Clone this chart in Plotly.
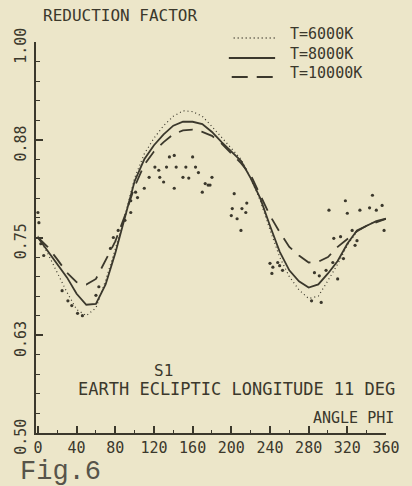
import plotly.graph_objects as go

# ---------------- data ----------------
phi = [0, 10, 20, 30, 40, 50, 60, 70, 80, 90, 100, 110, 120, 130, 140, 150, 160, 170, 180,
       190, 200, 210, 220, 230, 240, 250, 260, 270, 280, 290, 300, 310, 320, 330, 340, 350, 360]

rf_6000 = [0.752, 0.730, 0.705, 0.680, 0.658, 0.650, 0.660, 0.695, 0.735, 0.778, 0.826, 0.857,
           0.877, 0.893, 0.905, 0.912, 0.911, 0.905, 0.892, 0.878, 0.864, 0.850, 0.826, 0.797,
           0.760, 0.725, 0.700, 0.683, 0.672, 0.675, 0.695, 0.716, 0.740, 0.758, 0.765, 0.771, 0.774]

rf_8000 = [0.750, 0.733, 0.715, 0.699, 0.678, 0.664, 0.665, 0.690, 0.730, 0.776, 0.822, 0.850,
           0.868, 0.882, 0.893, 0.898, 0.898, 0.895, 0.885, 0.872, 0.860, 0.848, 0.826, 0.800,
           0.765, 0.732, 0.708, 0.694, 0.686, 0.690, 0.704, 0.720, 0.742, 0.759, 0.765, 0.771, 0.774]

rf_10000 = [0.750, 0.738, 0.722, 0.705, 0.693, 0.690, 0.697, 0.720, 0.745, 0.778, 0.815, 0.843,
            0.860, 0.872, 0.882, 0.887, 0.888, 0.885, 0.880, 0.870, 0.858, 0.845, 0.830, 0.804,
            0.778, 0.757, 0.738, 0.727, 0.718, 0.719, 0.725, 0.738, 0.748, 0.758, 0.765, 0.770, 0.774]

obs_phi = [0, 1, 3, 6, 25, 31, 35, 41, 46, 60, 63, 75, 78, 83, 90, 96, 101, 96, 103, 110,
           115, 121, 125, 126, 130, 133, 136, 141, 141, 143, 150, 153, 156, 160, 163, 166, 170,
           173, 176, 180, 178, 203, 201, 200, 211, 215, 206, 210, 216, 240, 243, 248, 250, 253,
           242, 283, 293, 286, 291, 298, 310, 305, 306, 313, 316, 325, 330, 328, 301, 318, 320,
           333, 343, 350, 346, 356, 358]
obs_rf = [0.782, 0.769, 0.742, 0.727, 0.682, 0.669, 0.663, 0.653, 0.650, 0.676, 0.687, 0.736,
          0.750, 0.759, 0.772, 0.797, 0.808, 0.782, 0.801, 0.813, 0.827, 0.840, 0.836, 0.827,
          0.821, 0.840, 0.853, 0.855, 0.813, 0.840, 0.827, 0.840, 0.826, 0.853, 0.840, 0.833,
          0.808, 0.819, 0.817, 0.827, 0.817, 0.806, 0.787, 0.778, 0.787, 0.782, 0.774, 0.759,
          0.794, 0.717, 0.712, 0.718, 0.714, 0.708, 0.704, 0.669, 0.667, 0.705, 0.701, 0.708,
          0.697, 0.718, 0.749, 0.751, 0.723, 0.759, 0.746, 0.740, 0.785, 0.797, 0.781, 0.785,
          0.788, 0.785, 0.804, 0.791, 0.759]

x_tickvals = [0, 40, 80, 120, 160, 200, 240, 280, 320, 360]
x_ticktext = ["0", "40", "80", "120", "160", "200", "240", "280", "320", "360"]
y_tickvals = [0.5, 0.625, 0.75, 0.875, 1.0]
y_ticktext = ["0.50", "0.63", "0.75", "0.88", "1.00"]

legend_labels = ["T=6000K", "T=8000K", "T=10000K"]

# ---------------- style ----------------
INK = "#3b382c"
BG = "#ece6c9"
MONO = "DejaVu Sans Mono"

fig = go.Figure()

fig.add_trace(go.Scatter(x=phi, y=rf_6000, mode="lines", name=legend_labels[0],
                         line=dict(color=INK, width=1.2, dash="1px,3px"), showlegend=False))
fig.add_trace(go.Scatter(x=phi, y=rf_8000, mode="lines", name=legend_labels[1],
                         line=dict(color=INK, width=1.8), showlegend=False))
fig.add_trace(go.Scatter(x=phi, y=rf_10000, mode="lines", name=legend_labels[2],
                         line=dict(color=INK, width=1.8, dash="14px,9px"), showlegend=False))
fig.add_trace(go.Scatter(x=obs_phi, y=obs_rf, mode="markers", name="obs",
                         marker=dict(color=INK, size=3.2), showlegend=False))

# plot area in pixels: left 35, right 398, top 42, bottom 433
L, R, T, B = 35, 398, 42, 433
W, H = 412, 486


def px(x):
    return (x - L) / (R - L)


def py(y):
    return (B - y) / (B - T)


# custom legend
leg_rows = [38, 58, 77]
leg_dash = ["1px,3px", "solid", "16px,9px"]
leg_w = [1.3, 2.0, 2.0]
leg_x0 = [240, 235, 238]
for i in range(3):
    fig.add_shape(type="line", xref="paper", yref="paper",
                  x0=px(leg_x0[i]), x1=px(283), y0=py(leg_rows[i]), y1=py(leg_rows[i]),
                  line=dict(color=INK, width=leg_w[i], dash=leg_dash[i]))
    fig.add_annotation(xref="paper", yref="paper", x=px(296), y=py(leg_rows[i] - 4),
                       text=legend_labels[i], showarrow=False, xanchor="left", yanchor="middle",
                       font=dict(family=MONO, size=15, color=INK))

texts = [
    ("REDUCTION FACTOR", 40, 15, 16, "left", MONO, INK),
    ("S1", 167, 370, 16, "center", MONO, INK),
    ("EARTH ECLIPTIC LONGITUDE 11 DEG", 77, 389, 17, "left", MONO, INK),
    ("ANGLE PHI", 320, 418, 15, "left", MONO, INK),
    ("Fig.6", 16, 472, 27, "left", "Liberation Mono", "#57544a"),
]
for t, x, y, s, xa, fam, col in texts:
    fig.add_annotation(xref="paper", yref="paper", x=px(x), y=py(y), text=t, showarrow=False,
                       xanchor=xa, yanchor="middle", font=dict(family=fam, size=s, color=col))

fig.update_xaxes(range=[-2, 360], tickvals=x_tickvals, ticktext=x_ticktext,
                 showline=True, linecolor=INK, linewidth=2, showgrid=False, zeroline=False,
                 ticks="inside", ticklen=7, tickwidth=1.5, tickcolor=INK,
                 minor=dict(dtick=20, ticks="inside", ticklen=3, tickcolor=INK, tickwidth=1.2),
                 tickfont=dict(family=MONO, size=15, color=INK))
fig.update_yaxes(range=[0.5, 1.0], tickvals=y_tickvals, ticktext=y_ticktext, tickangle=-90,
                 showline=True, linecolor=INK, linewidth=2, showgrid=False, zeroline=False,
                 ticks="inside", ticklen=7, tickwidth=1.5, tickcolor=INK,
                 ticklabelshift=6, ticklabelstandoff=2,
                 minor=dict(dtick=0.025, ticks="inside", ticklen=4, tickcolor=INK, tickwidth=1.2),
                 tickfont=dict(family=MONO, size=15, color=INK))

fig.update_layout(width=W, height=H, margin=dict(l=L, r=W - R, t=T, b=H - B),
                  paper_bgcolor=BG, plot_bgcolor=BG, showlegend=False)

fig.write_html("out.html", config={"displayModeBar": False},
               post_script="document.body.style.margin='0';document.body.style.padding='0';"
                           "document.body.style.background='" + BG + "';")
